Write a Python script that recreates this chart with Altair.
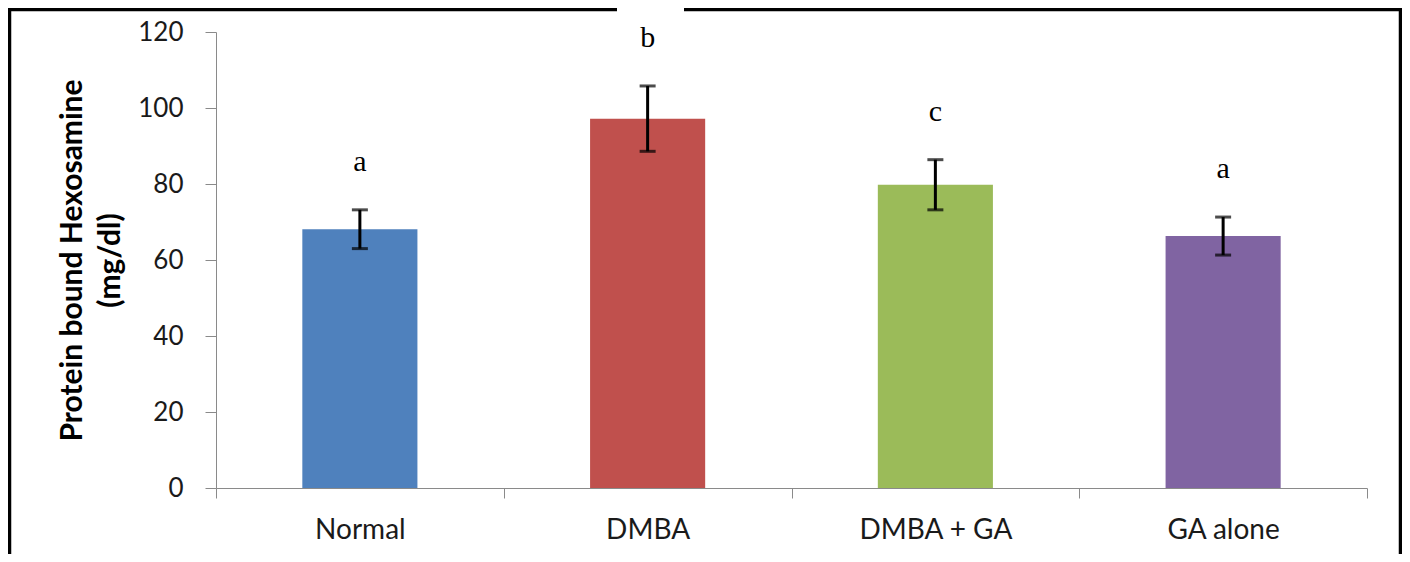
import altair as alt
import pandas as pd

groups = ["Normal", "DMBA", "DMBA + GA", "GA alone"]
means = [68.1, 97.2, 79.8, 66.3]
errors = [5.1, 8.6, 6.6, 5.0]
letters = ["a", "b", "c", "a"]
colors = ["#4F81BD", "#C0504D", "#9BBB59", "#8064A2"]
y_ticks = [0, 20, 40, 60, 80, 100, 120]

df = pd.DataFrame({"group": groups, "mean": means, "err": errors, "letter": letters})
df["lo"] = df["mean"] - df["err"]
df["hi"] = df["mean"] + df["err"]

W, H = 1151, 456
AX = "#8a8a8a"

x_scale = alt.Scale(paddingInner=0, paddingOuter=0)
x_enc = alt.X(
    "group:N",
    sort=groups,
    scale=x_scale,
    axis=alt.Axis(
        title=None, tickBand="extent", labelAngle=0, labelFont="Lato",
        labelFontSize=28, labelColor="#1a1a1a", labelPadding=18,
        tickSize=10, tickColor=AX, domainColor=AX,
    ),
)
y_scale = alt.Scale(domain=[0, 120], nice=False)

base = alt.Chart(df)

bars = base.mark_bar(width=alt.RelativeBandSize(0.4)).encode(
    x=x_enc,
    y=alt.Y(
        "mean:Q",
        scale=y_scale,
        axis=alt.Axis(
            values=y_ticks, grid=False, tickSize=11, tickColor=AX, domainColor=AX,
            labelFont="Lato", labelFontSize=26, labelColor="#1a1a1a", labelPadding=22,
            title=["Protein bound Hexosamine", "(mg/dl)"], titleFont="Lato",
            titleFontSize=30, titleFontWeight="bold", titleColor="#000000",
            titleLineHeight=38, titlePadding=12,
        ),
    ),
    color=alt.Color("group:N", scale=alt.Scale(domain=groups, range=colors), legend=None),
)

xg = alt.X("group:N", sort=groups, scale=x_scale)
err_rule = base.mark_rule(color="black", strokeWidth=3).encode(
    x=xg, y=alt.Y("lo:Q", scale=y_scale), y2="hi:Q"
)
cap_lo = base.mark_tick(color="black", thickness=3, size=16).encode(
    x=xg, y=alt.Y("lo:Q", scale=y_scale)
)
cap_hi = base.mark_tick(color="black", thickness=3, size=16).encode(
    x=xg, y=alt.Y("hi:Q", scale=y_scale)
)
labels = base.mark_text(
    font="Liberation Serif", fontSize=30, baseline="alphabetic", dy=-39, color="black"
).encode(x=xg, y=alt.Y("hi:Q", scale=y_scale), text="letter:N")

one = alt.Data(values=[{"k": 1}])
fw = 3.5
frame_left = alt.Chart(one).mark_rule(color="black", strokeWidth=fw).encode(
    x=alt.value(-206.5), y=alt.value(-24.5), y2=alt.value(540)
)
frame_right = alt.Chart(one).mark_rule(color="black", strokeWidth=fw).encode(
    x=alt.value(1184.5), y=alt.value(-24.5), y2=alt.value(540)
)
frame_top1 = alt.Chart(one).mark_rule(color="black", strokeWidth=fw).encode(
    x=alt.value(-208), x2=alt.value(401), y=alt.value(-22.5)
)
frame_top2 = alt.Chart(one).mark_rule(color="black", strokeWidth=fw).encode(
    x=alt.value(468), x2=alt.value(1186), y=alt.value(-22.5)
)

chart = (
    alt.layer(bars, err_rule, cap_lo, cap_hi, labels,
              frame_left, frame_right, frame_top1, frame_top2)
    .properties(
        width=W, height=H,
        autosize=alt.AutoSizeParams(type="none"),
        padding={"left": 208, "top": 24, "right": 35, "bottom": 66},
        background="white",
    )
    .configure_view(stroke=None)
)

chart.save("out.html", embed_options={"renderer": "svg", "actions": False})
